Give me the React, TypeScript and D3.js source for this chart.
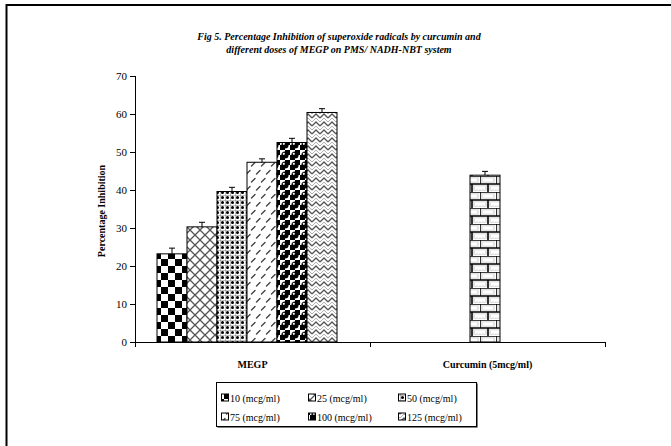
import React from "react";
import * as d3 from "d3";

// Category and series data
const categories = ["MEGP", "Curcumin (5mcg/ml)"];
const doseLabels = ["10 (mcg/ml)", "25 (mcg/ml)", "50 (mcg/ml)", "75 (mcg/ml)", "100 (mcg/ml)", "125 (mcg/ml)"];
const megpValues = [23.2, 30.3, 39.6, 47.3, 52.5, 60.4];
const megpErrors = [1.5, 1.2, 1.1, 0.9, 1.1, 1.0];
const curcuminValues = [43.9];
const curcuminErrors = [1.0];
const yTicks = [0, 10, 20, 30, 40, 50, 60, 70];
const titleLines = [
  "Fig 5. Percentage Inhibition of superoxide radicals by curcumin and",
  "different doses of MEGP on PMS/ NADH-NBT system",
];

const W = 671;
const H = 446;
const plot = { left: 135, right: 605, top: 76, bottom: 342 };
const serif = "Liberation Serif, Times New Roman, serif";
const patternIds = ["p10", "p25", "p50", "p75", "p100", "p125"];

function Patterns() {
  return (
    <defs>
      <pattern id="p10" width={14} height={14} patternUnits="userSpaceOnUse">
        <rect width={14} height={14} fill="#fff" />
        <rect x={0} y={0} width={7} height={7} fill="#000" />
        <rect x={7} y={7} width={7} height={7} fill="#000" />
      </pattern>
      <pattern id="p25" width={10} height={10} patternUnits="userSpaceOnUse">
        <rect width={10} height={10} fill="#fff" />
        <path d="M0,0L10,10M10,0L0,10" stroke="#555" strokeWidth={1.3} />
      </pattern>
      <pattern id="p50" width={5} height={5} patternUnits="userSpaceOnUse">
        <rect width={5} height={5} fill="#fff" />
        <path d="M0,0H5M0,0V5" stroke="#777" strokeWidth={0.9} />
        <circle cx={2.5} cy={2.5} r={1.5} fill="#000" />
      </pattern>
      <pattern id="p75" width={10} height={16} patternUnits="userSpaceOnUse">
        <rect width={10} height={16} fill="#fff" />
        <path d="M1.5,6L5,2.5M6.5,14L10,10.5M-3.5,14L0,10.5" stroke="#444" strokeWidth={1.4} strokeLinecap="round" />
      </pattern>
      <pattern id="p100" width={10} height={10} patternUnits="userSpaceOnUse">
        <rect width={10} height={10} fill="#fff" />
        <rect x={5} y={0} width={5} height={5} fill="#000" />
        <rect x={0} y={5} width={5} height={5} fill="#000" />
        <circle cx={5} cy={5} r={3.6} fill="#000" />
        <circle cx={3.8} cy={3.8} r={1.1} fill="#fff" />
      </pattern>
      <pattern id="p125" width={8} height={8} patternUnits="userSpaceOnUse">
        <rect width={8} height={8} fill="#fff" />
        <path d="M0,6L4,2L8,6" fill="none" stroke="#555" strokeWidth={1.3} />
        <path d="M0,10L4,6L8,10M0,2L4,-2L8,2" fill="none" stroke="#999" strokeWidth={0.8} />
      </pattern>
      <pattern id="pBrick" width={16} height={16} patternUnits="userSpaceOnUse">
        <rect width={16} height={16} fill="#fff" />
        <rect x={1} y={1} width={14} height={6} fill="#e4e4e4" />
        <rect x={3} y={2.5} width={10} height={3} fill="#fff" />
        <rect x={-7} y={9} width={14} height={6} fill="#e4e4e4" />
        <rect x={9} y={9} width={14} height={6} fill="#e4e4e4" />
        <rect x={11} y={10.5} width={10} height={3} fill="#fff" />
        <rect x={-5} y={10.5} width={10} height={3} fill="#fff" />
        <path d="M0,0H16M0,8H16M0,0V8M8,8V16" stroke="#000" strokeWidth={1.6} />
      </pattern>
    </defs>
  );
}

export default function App() {
  const x = d3.scaleBand<string>().domain(categories).range([plot.left, plot.right]);
  const y = d3.scaleLinear().domain([0, 70]).range([plot.bottom, plot.top]);

  const megpStart = (x(categories[0]) ?? 0) + 22;
  const xDose = d3.scaleBand<string>().domain(doseLabels).range([megpStart, megpStart + 180]);
  const barW = xDose.bandwidth();
  const curcX = (x(categories[1]) ?? 0) + x.bandwidth() / 2 - barW / 2 - 2.5;

  const bars = [
    ...megpValues.map((v, i) => ({ x0: xDose(doseLabels[i]) ?? 0, v, e: megpErrors[i], fill: `url(#${patternIds[i]})` })),
    ...curcuminValues.map((v, i) => ({ x0: curcX, v, e: curcuminErrors[i], fill: "url(#pBrick)" })),
  ];

  const legendCols = [221, 308, 398];
  const legendRows = [401.5, 420.5];

  return (
    <svg
      width={W}
      height={H}
      style={{ position: "absolute", left: 0, top: 0, background: "#fff" }}
      fontFamily={serif}
    >
      <Patterns />
      <rect width={W} height={H} fill="#fff" />
      {/* frame */}
      <path d={`M6.5,${H}V5H${W}`} fill="none" stroke="#000" strokeWidth={2} />

      {/* title */}
      {titleLines.map((t, i) => (
        <text key={i} x={339} y={39.5 + i * 13} textAnchor="middle" fontSize={10} fontWeight="bold" fontStyle="italic">
          {t}
        </text>
      ))}

      {/* y axis */}
      <line x1={plot.left + 0.5} x2={plot.left + 0.5} y1={plot.top} y2={plot.bottom} stroke="#000" />
      {yTicks.map((t) => (
        <g key={t}>
          <line x1={plot.left - 5} x2={plot.left} y1={Math.round(y(t)) + 0.5} y2={Math.round(y(t)) + 0.5} stroke="#000" />
          <text x={plot.left - 8} y={y(t) + 4} textAnchor="end" fontSize={11}>
            {t}
          </text>
        </g>
      ))}
      <text
        transform={`translate(105,${(plot.top + plot.bottom) / 2 + 2}) rotate(-90)`}
        textAnchor="middle"
        fontSize={10}
        fontWeight="bold"
      >
        Percentage Inhibition
      </text>

      {/* bars */}
      {bars.map((b, i) => (
        <g key={i}>
          <rect x={b.x0} y={y(b.v)} width={barW} height={y(0) - y(b.v)} fill={b.fill} stroke="#000" strokeWidth={1} />
          <line x1={b.x0 + barW / 2} x2={b.x0 + barW / 2} y1={y(b.v)} y2={y(b.v + b.e)} stroke="#000" />
          <line x1={b.x0 + barW / 2 - 3} x2={b.x0 + barW / 2 + 3} y1={y(b.v + b.e)} y2={y(b.v + b.e)} stroke="#000" />
        </g>
      ))}

      {/* x axis */}
      <line x1={plot.left} x2={plot.right} y1={plot.bottom + 0.5} y2={plot.bottom + 0.5} stroke="#000" />
      {[plot.left, plot.left + x.bandwidth(), plot.right].map((t, i) => (
        <line key={i} x1={t + 0.5} x2={t + 0.5} y1={plot.bottom} y2={plot.bottom + 5} stroke="#000" />
      ))}
      {categories.map((c) => (
        <text key={c} x={(x(c) ?? 0) + x.bandwidth() / 2} y={368} textAnchor="middle" fontSize={10} fontWeight="bold">
          {c}
        </text>
      ))}

      {/* legend */}
      <rect x={217.5} y={383.5} width={260} height={44} fill="#000" />
      <rect x={216.5} y={382.5} width={260} height={44} fill="#fff" stroke="#000" />
      {doseLabels.map((d, i) => {
        const cx = legendCols[i % 3];
        const cy = legendRows[Math.floor(i / 3)];
        return (
          <g key={d}>
            <rect x={cx + 0.5} y={cy - 7.5} width={7} height={7} fill={`url(#${patternIds[i]})`} stroke="#000" strokeWidth={1} />
            <text x={cx + 9} y={cy} fontSize={10}>
              {d}
            </text>
          </g>
        );
      })}
    </svg>
  );
}
